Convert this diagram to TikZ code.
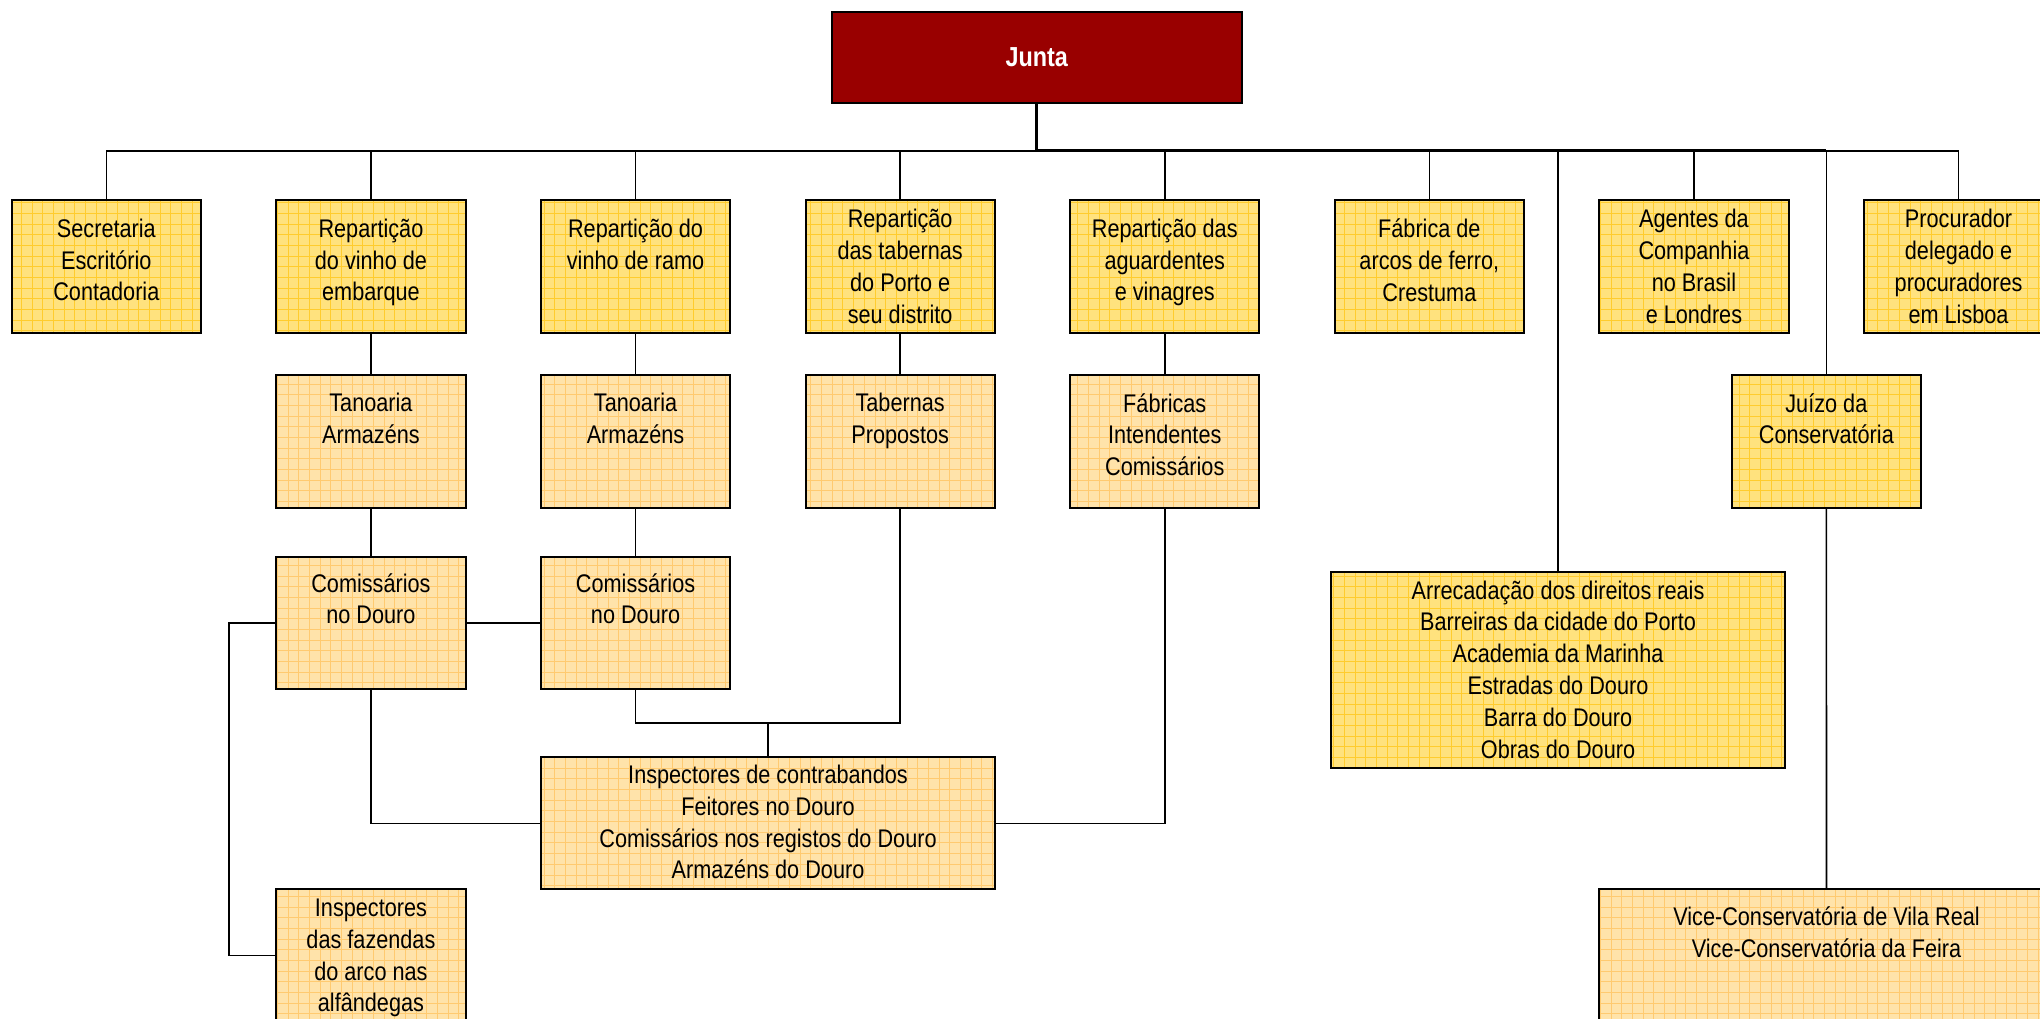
\documentclass[tikz,border=0pt]{standalone}
\usepackage{fontspec}
\setmainfont{Liberation Sans}[FakeStretch=0.85]
\usetikzlibrary{calc}
\definecolor{yfill}{HTML}{FFE27E}
\definecolor{ygridc}{HTML}{FFCC2E}
\definecolor{ofill}{HTML}{FFE3AA}
\definecolor{ogridc}{HTML}{FFCA70}
\definecolor{juntared}{HTML}{990000}
\tikzset{
 boxshape/.style={rectangle, draw=none, inner sep=0pt, outer sep=0pt},
 border/.style={draw=black, line width=2pt},
 ygridline/.style={draw=ygridc, line width=0.9pt},
 ogridline/.style={draw=ogridc, line width=0.9pt},
 txt/.style={font=\fontsize{25.5}{31.8}\selectfont, align=center, inner sep=0pt, execute at begin node=\strut},
 conn/.style={draw=black, line width=1.6pt},
 mainconn/.style={draw=black, line width=3pt},
}
\newcommand\orgbox[8]{%
 \node[boxshape, minimum width=#4pt, minimum height=#5pt, anchor=north west, fill=#6fill] (#1) at (#2,#3) {};
 \begin{scope}
  \clip (#1.south west) rectangle (#1.north east);
  \draw[#6gridline] (#1.south west) grid[step=10.67pt] (#1.north east);
 \end{scope}
 \draw[border] (#1.south west) rectangle (#1.north east);
 \node[txt, anchor=north] (#1-t) at ($(#1.north)+(0,#7-18.5)$) {#8};
}
\begin{document}
\begin{tikzpicture}[x=1pt,y=-1pt]
\fill[white] (0,0) rectangle (2040,1018);
\useasboundingbox (0,0) rectangle (2040,1018);
\clip (0,0) rectangle (2040,1018);

% Junta
\node[boxshape, fill=juntared, draw=black, line width=2pt, minimum width=410pt, minimum height=91.3pt,
  anchor=north west, text=white, font=\bfseries\fontsize{27.5}{33}\selectfont] (junta) at (831.7,11.7) {Junta};

% row 1
\orgbox{sec}{11.7}{200}{189.3}{133.3}{y}{37.2}{Secretaria\\Escritório\\Contadoria}
\orgbox{emb}{276.3}{200}{189.3}{133.3}{y}{37.2}{Repartição\\do vinho de\\embarque}
\orgbox{ramo}{540.9}{200}{189.3}{133.3}{y}{37.2}{Repartição do\\vinho de ramo}
\orgbox{tabr}{805.5}{200}{189.3}{133.3}{y}{27.6}{Repartição\\das tabernas\\do Porto e\\seu distrito}
\orgbox{agu}{1070.1}{200}{189.3}{133.3}{y}{37.2}{Repartição das\\aguardentes\\e vinagres}
\orgbox{fab}{1334.7}{200}{189.3}{133.3}{y}{37.2}{Fábrica de\\arcos de ferro,\\Crestuma}
\orgbox{age}{1599.3}{200}{189.3}{133.3}{y}{27.6}{Agentes da\\Companhia\\no Brasil\\e Londres}
\orgbox{pro}{1863.9}{200}{189.3}{133.3}{y}{27.6}{Procurador\\delegado e\\procuradores\\em Lisboa}

% row 2
\orgbox{tan1}{276.3}{375}{189.3}{132.7}{o}{36.7}{Tanoaria\\Armazéns}
\orgbox{tan2}{540.9}{375}{189.3}{132.7}{o}{36.7}{Tanoaria\\Armazéns}
\orgbox{tab}{805.5}{375}{189.3}{132.7}{o}{36.7}{Tabernas\\Propostos}
\orgbox{fabs}{1070.1}{375}{189.3}{132.7}{o}{36.7}{Fábricas\\Intendentes\\Comissários}
\orgbox{juizo}{1731.7}{375}{189.3}{132.7}{y}{36.7}{Juízo da\\Conservatória}

% row 3
\orgbox{com1}{276.3}{556.7}{189.3}{132.3}{o}{35}{Comissários\\no Douro}
\orgbox{com2}{540.9}{556.7}{189.3}{132.3}{o}{35}{Comissários\\no Douro}

\orgbox{arr}{1331}{571.7}{454}{196.6}{y}{27.3}{Arrecadação dos direitos reais\\Barreiras da cidade do Porto\\Academia da Marinha\\Estradas do Douro\\Barra do Douro\\Obras do Douro}
\orgbox{insp}{541}{757.3}{454}{132}{o}{26}{Inspectores de contrabandos\\Feitores no Douro\\Comissários nos registos do Douro\\Armazéns do Douro}
\orgbox{faz}{276.3}{889.3}{189.3}{132.7}{o}{28}{Inspectores\\das fazendas\\do arco nas\\alfândegas}
\orgbox{vice}{1599}{889.3}{455}{200}{o}{35.7}{Vice-Conservatória de Vila Real\\Vice-Conservatória da Feira}

% connectors
\coordinate (bus) at (0,150.7);
\coordinate (mid) at (0,723);
\coordinate (lx) at (229,0);

\draw[conn] (sec.north |- bus) -- (pro.north |- bus);
\foreach \n in {sec,emb,ramo,tabr,agu,fab,age,pro,arr,juizo}
  \draw[conn] (\n.north) -- (\n.north |- bus);
\draw[mainconn] (junta.south) -- (junta.south |- bus) -- (juizo.north |- bus);

\draw[conn] (emb.south) -- (tan1.north);
\draw[conn] (tan1.south) -- (com1.north);
\draw[conn] (ramo.south) -- (tan2.north);
\draw[conn] (tan2.south) -- (com2.north);
\draw[conn] (tabr.south) -- (tab.north);
\draw[conn] (agu.south) -- (fabs.north);
\draw[conn] (juizo.south) -- (vice.north);

\draw[conn] (com1.east) -- (com2.west);
\draw[conn] (com1.west) -- (lx |- com1.west) -- (lx |- faz.west) -- (faz.west);
\draw[conn] (com1.south) -- (com1.south |- insp.west) -- (insp.west);
\draw[conn] (fabs.south) -- (fabs.south |- insp.east) -- (insp.east);
\draw[conn] (com2.south) -- (com2.south |- mid) -- (tab.south |- mid) -- (tab.south);
\draw[conn] (insp.north) -- (insp.north |- mid);
\end{tikzpicture}
\end{document}
